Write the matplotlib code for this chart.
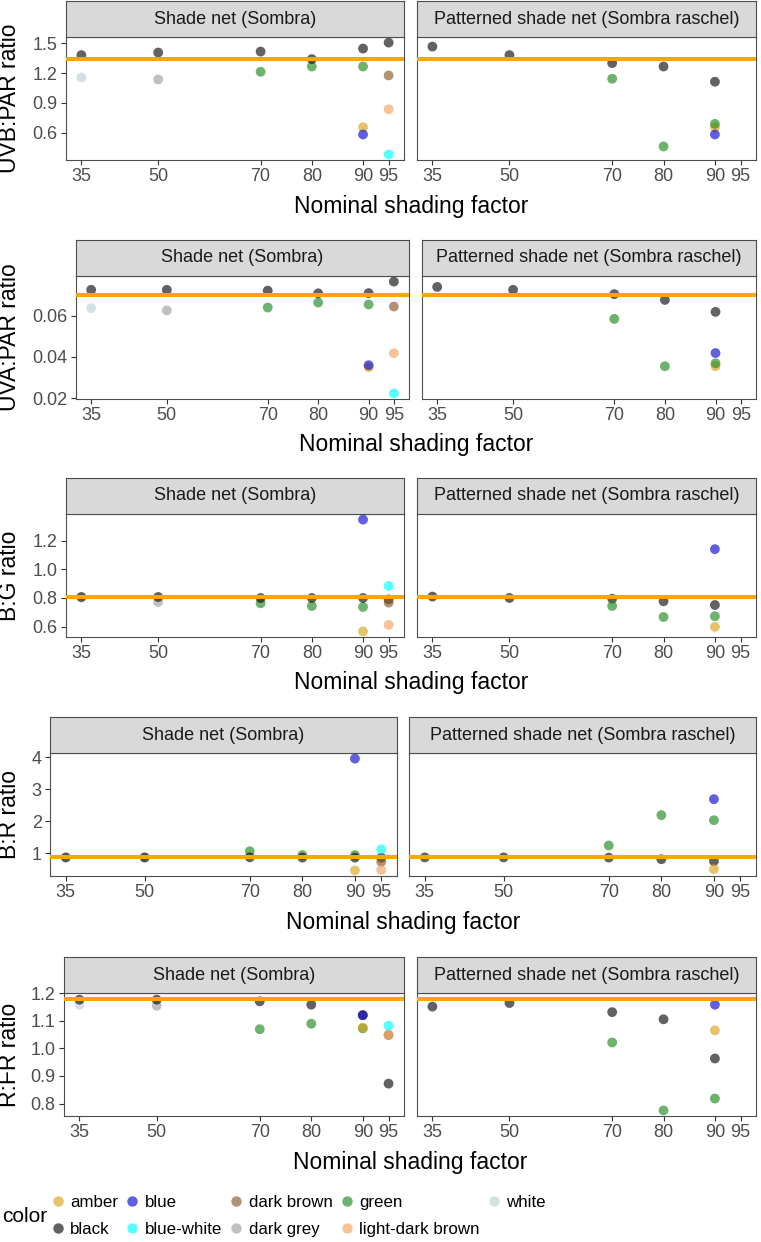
import numpy as np
import matplotlib
matplotlib.use("Agg")
import matplotlib.pyplot as plt
from matplotlib.lines import Line2D

plt.rcParams['font.family'] = ['Liberation Sans', 'DejaVu Sans']

# ---- data ----
shading_ticks = [35, 50, 70, 80, 90, 95]
net_labels = ["Shade net (Sombra)", "Patterned shade net (Sombra raschel)"]
color_names = ["amber", "black", "blue", "blue-white", "dark brown",
               "dark grey", "green", "light-dark brown", "white"]
color_values = ["#D9A520", "#111111", "#0E0ECD", "cyan", "#8B5A2B",
                "#A0A0A0", "#228B22", "#F4A460", "#BCD3D3"]

# UVB:PAR
uvb_s_x = [35, 35, 50, 50, 70, 70, 80, 80, 90, 90, 90, 90, 95, 95, 95, 95]
uvb_s_c = ["white", "black", "dark grey", "black", "green", "black", "green", "black",
           "green", "black", "amber", "blue", "black", "dark brown", "light-dark brown", "blue-white"]
uvb_s_y = [1.156, 1.38, 1.136, 1.406, 1.213, 1.416, 1.266, 1.34,
           1.266, 1.446, 0.656, 0.583, 1.506, 1.176, 0.836, 0.383]
uvb_r_x = [35, 50, 70, 70, 80, 80, 90, 90, 90, 90]
uvb_r_c = ["black", "black", "black", "green", "black", "green", "black", "amber", "green", "blue"]
uvb_r_y = [1.466, 1.38, 1.30, 1.143, 1.266, 0.463, 1.113, 0.656, 0.69, 0.583]
uvb_ref = 1.34

# UVA:PAR
uva_s_x = [35, 35, 50, 50, 70, 70, 80, 80, 90, 90, 90, 90, 95, 95, 95, 95]
uva_s_c = uvb_s_c
uva_s_y = [0.0637, 0.0726, 0.0626, 0.0726, 0.064, 0.0722, 0.0664, 0.0709,
           0.0655, 0.071, 0.035, 0.036, 0.0766, 0.0645, 0.0418, 0.0223]
uva_r_x = uvb_r_x
uva_r_c = uvb_r_c
uva_r_y = [0.074, 0.0726, 0.0705, 0.0585, 0.0677, 0.0355, 0.0619, 0.0355, 0.0369, 0.0419]
uva_ref = 0.0702

# B:G
bg_s_x = uvb_s_x
bg_s_c = uvb_s_c
bg_s_y = [0.80, 0.807, 0.772, 0.807, 0.763, 0.80, 0.744, 0.80,
          0.737, 0.80, 0.566, 1.349, 0.79, 0.768, 0.612, 0.884]
bg_r_x = uvb_r_x
bg_r_c = uvb_r_c
bg_r_y = [0.81, 0.80, 0.795, 0.744, 0.777, 0.667, 0.751, 0.598, 0.672, 1.142]
bg_ref = 0.807

# B:R
br_s_x = uvb_s_x
br_s_c = uvb_s_c
br_s_y = [0.86, 0.867, 0.86, 0.867, 1.06, 0.87, 0.94, 0.86,
          0.94, 0.86, 0.46, 3.96, 0.86, 0.73, 0.47, 1.12]
br_r_x = uvb_r_x
br_r_c = uvb_r_c
br_r_y = [0.867, 0.867, 0.86, 1.24, 0.81, 2.19, 0.75, 0.50, 2.03, 2.69]
br_ref = 0.867

# R:FR
rfr_s_x = uvb_s_x
rfr_s_c = uvb_s_c
rfr_s_y = [1.158, 1.176, 1.154, 1.176, 1.069, 1.17, 1.089, 1.158,
           1.072, 1.12, 1.075, 1.12, 0.872, 1.048, 1.05, 1.082]
rfr_r_x = uvb_r_x
rfr_r_c = uvb_r_c
rfr_r_y = [1.151, 1.164, 1.131, 1.021, 1.105, 0.775, 0.963, 1.065, 0.818, 1.158]
rfr_ref = 1.18

rows = [
    ("UVB:PAR ratio", (uvb_s_x, uvb_s_c, uvb_s_y), (uvb_r_x, uvb_r_c, uvb_r_y), uvb_ref, [0.6, 0.9, 1.2, 1.5], "{:.1f}"),
    ("UVA:PAR ratio", (uva_s_x, uva_s_c, uva_s_y), (uva_r_x, uva_r_c, uva_r_y), uva_ref, [0.02, 0.04, 0.06], "{:.2f}"),
    ("B:G ratio", (bg_s_x, bg_s_c, bg_s_y), (bg_r_x, bg_r_c, bg_r_y), bg_ref, [0.6, 0.8, 1.0, 1.2], "{:.1f}"),
    ("B:R ratio", (br_s_x, br_s_c, br_s_y), (br_r_x, br_r_c, br_r_y), br_ref, [1, 2, 3, 4], "{:.0f}"),
    ("R:FR ratio", (rfr_s_x, rfr_s_c, rfr_s_y), (rfr_r_x, rfr_r_c, rfr_r_y), rfr_ref, [0.8, 0.9, 1.0, 1.1, 1.2], "{:.1f}"),
]

# ---- layout in pixels ----
W, H = 761, 1242
strip_top = [1, 240, 478, 717, 957]
strip_h = 36
panel_h = 123
col_px = [((66, 404), (417, 756)), ((76, 409), (422, 756)), ((66, 404), (417, 756)),
          ((50, 397), (409, 756)), ((64, 404), (417, 756))]

cmap = dict(zip(color_names, color_values))
ALPHA = 0.66
edge = "#4D4D4D"
fig = plt.figure(figsize=(W / 100, H / 100), dpi=100)


def box(x0, x1, y0, y1):
    return [x0 / W, 1 - y1 / H, (x1 - x0) / W, (y1 - y0) / H]


for i, (ylab, left, right, ref, yticks, fmt) in enumerate(rows):
    ptop = strip_top[i] + strip_h
    pbot = ptop + panel_h
    allv = list(left[2]) + list(right[2]) + [ref]
    lo, hi = min(allv), max(allv)
    pad = 0.05 * (hi - lo)
    for j, (x, c, y) in enumerate([left, right]):
        x0, x1 = col_px[i][j]
        ax = fig.add_axes(box(x0, x1, ptop, pbot))
        ax.scatter(x, y, c=[cmap[k] for k in c], s=50, alpha=ALPHA, linewidths=0, zorder=2)
        ax.axhline(ref, color="orange", lw=2.9, zorder=3)
        ax.set_xlim(32, 98)
        ax.set_ylim(lo - pad, hi + pad)
        ax.set_xticks(shading_ticks)
        ax.set_xticklabels([str(t) for t in shading_ticks])
        ax.set_yticks(yticks)
        ax.set_yticklabels([fmt.format(t) for t in yticks])
        ax.tick_params(colors="#333333", labelcolor="#4D4D4D", labelsize=13,
                       length=3.5, width=0.8, pad=2.5)
        if j == 1:
            ax.tick_params(axis="y", left=False, labelleft=False)
        for s in ax.spines.values():
            s.set_color(edge)
            s.set_linewidth(0.8)
        # facet strip
        sa = fig.add_axes(box(x0, x1, strip_top[i], ptop))
        sa.set_facecolor("#D9D9D9")
        sa.set_xticks([])
        sa.set_yticks([])
        for s in sa.spines.values():
            s.set_color(edge)
            s.set_linewidth(0.8)
        sa.text(0.5, 0.5, net_labels[j], ha="center", va="center", fontsize=13,
                color="#1A1A1A", transform=sa.transAxes)
    # axis titles
    fig.text(10 / W, 1 - (ptop + pbot) / 2 / H, ylab, rotation=90, ha="center",
             va="center", fontsize=16.5)
    xc = (col_px[i][0][0] + col_px[i][1][1]) / 2
    fig.text(xc / W, 1 - (pbot + 46) / H, "Nominal shading factor", ha="center",
             va="center", fontsize=16.5)

# legend
handles = [Line2D([], [], ls="none", marker="o", ms=7.5, mew=0,
                  color=cmap[n], alpha=ALPHA, label=n) for n in color_names]
fig.text(2 / W, 1 - 1217 / H, "color", ha="left", va="center", fontsize=15)
fig.legend(handles=handles, ncol=5, loc="center left", frameon=False,
           bbox_to_anchor=(51 / W, 1 - 1216 / H), fontsize=12.2,
           handlelength=0.8, handletextpad=0.32, columnspacing=0.45,
           labelspacing=0.75, borderpad=0, borderaxespad=0)

fig.savefig("out.png", dpi=100)
